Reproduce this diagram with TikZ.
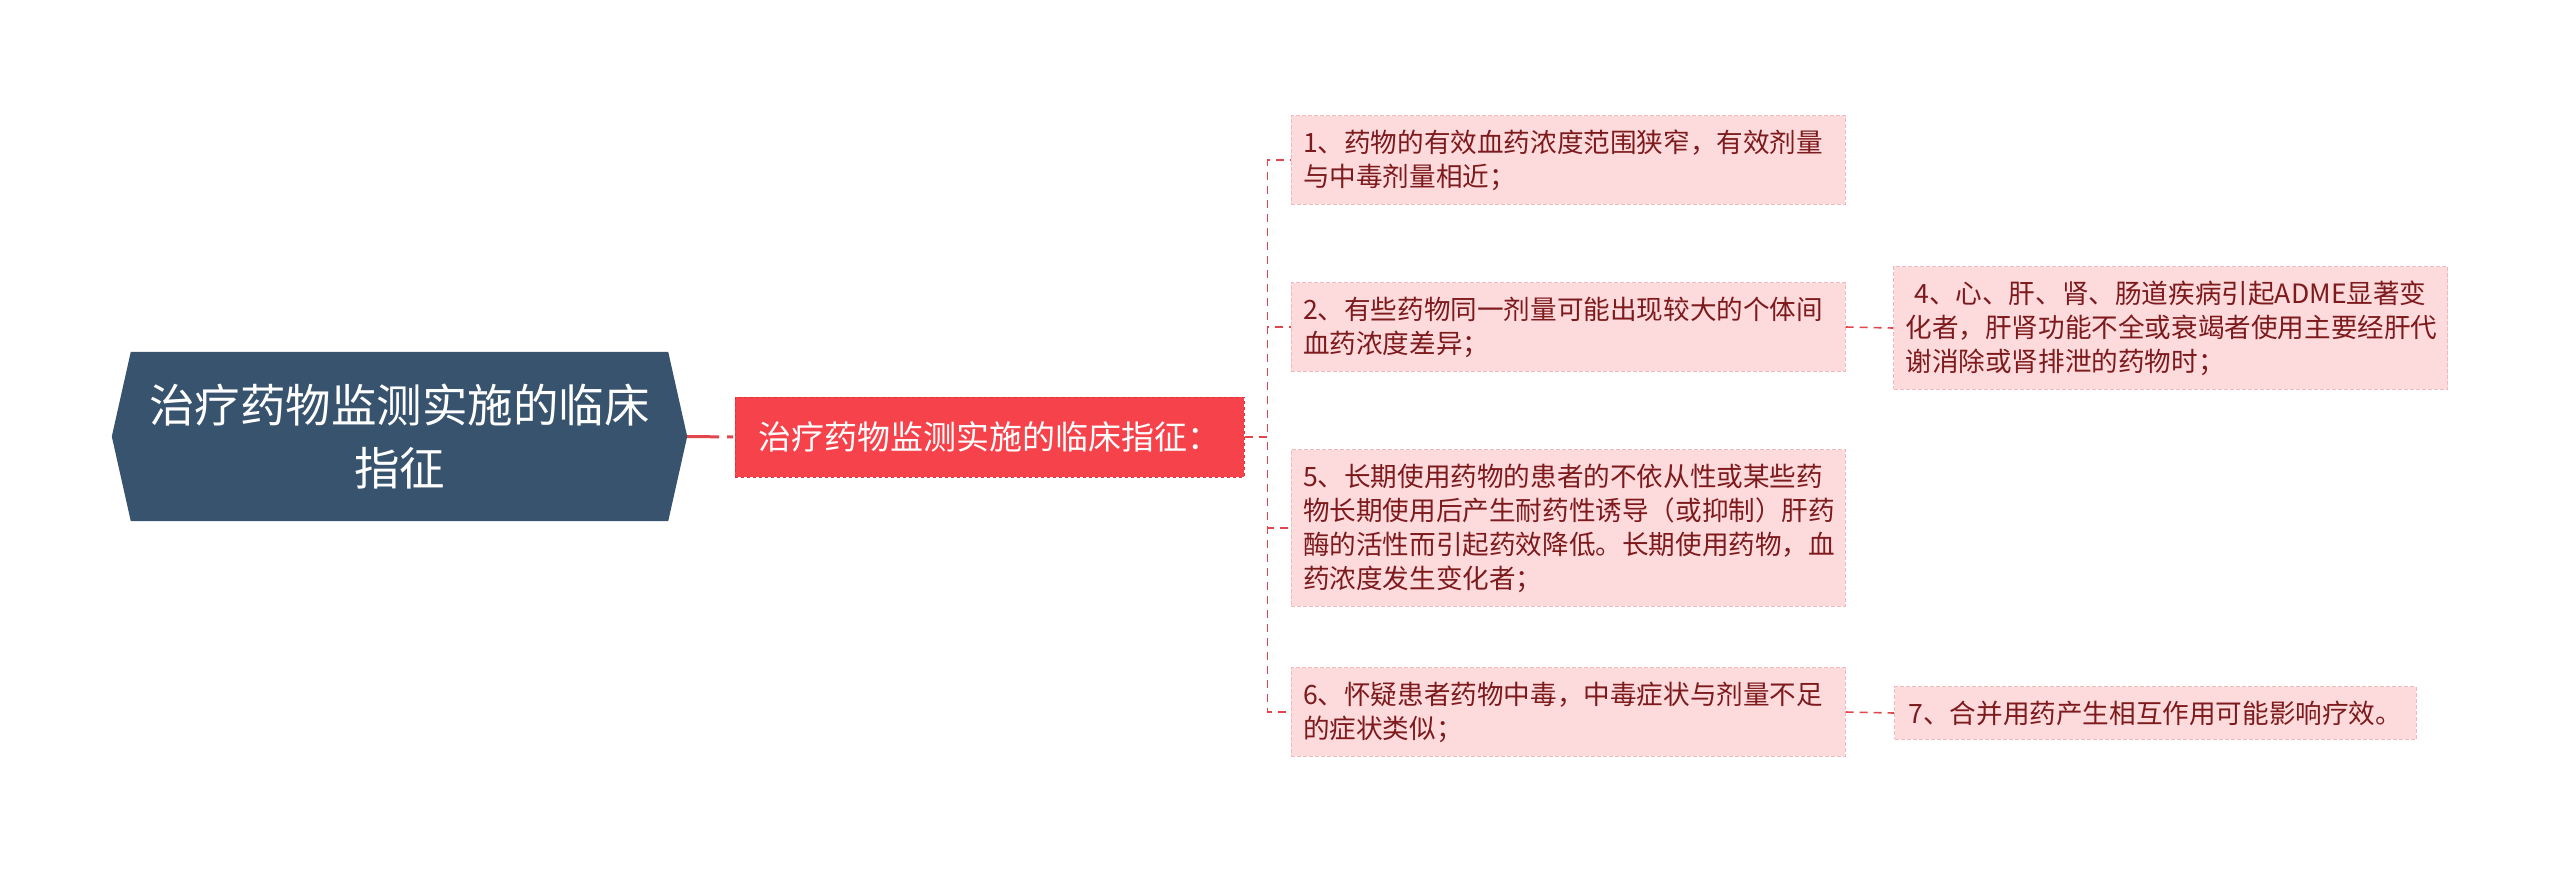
\documentclass[tikz,border=0pt]{standalone}
\usepackage{fontspec}
\setmainfont{Noto Sans CJK SC}
\usepackage{tikz}
\usetikzlibrary{positioning, backgrounds}

\definecolor{rootfill}{HTML}{37536E}
\definecolor{mainfill}{HTML}{F6434B}
\definecolor{mainline}{HTML}{D8343C}
\definecolor{leaffill}{HTML}{FDDBDC}
\definecolor{leafline}{HTML}{F2B9BC}
\definecolor{leaftext}{HTML}{7D1A1D}
\definecolor{linkred}{HTML}{E0464C}

\tikzset{
  rootbox/.style={minimum width=537pt, minimum height=169pt, inner sep=0pt, align=center,
    text=white, font=\fontsize{45.5}{63}\selectfont},
  mainbox/.style={draw=mainline, dashed, line width=1pt, fill=mainfill, minimum width=509pt,
    minimum height=80pt, inner sep=0pt, text=white, font=\fontsize{33}{40}\selectfont},
  leafbox/.style={draw=leafline, dash pattern=on 4pt off 2pt, line width=1pt, fill=leaffill,
    text=leaftext, align=left, inner xsep=12pt, inner ysep=14pt, font=\fontsize{26.6}{34}\selectfont},
  link/.style={draw=linkred, line width=1.6pt, dash pattern=on 8pt off 6pt},
  rootlink/.style={draw=linkred, line width=3pt, dash pattern=on 32pt off 8pt on 6pt off 2pt}
}

\begin{document}
\begin{tikzpicture}[x=1pt, y=1pt]
\useasboundingbox (0,0) rectangle (2560,-873) ;

\node[rootbox] at (399.5,-436.5) (root) {治疗药物监测实施的临床\\指征} ;
\node[mainbox] at (989.5,-437) (main) {治疗药物监测实施的临床指征：} ;

\node[leafbox, text width=530pt] at (1568,-160) (c1) {1、药物的有效血药浓度范围狭窄，有效剂量\\与中毒剂量相近；} ;
\node[leafbox, text width=530pt] at (1568,-327) (c2) {2、有些药物同一剂量可能出现较大的个体间\\血药浓度差异；} ;
\node[leafbox, text width=530pt] at (1568,-528) (c5) {5、长期使用药物的患者的不依从性或某些药\\物长期使用后产生耐药性诱导（或抑制）肝药\\酶的活性而引起药效降低。长期使用药物，血\\药浓度发生变化者；} ;
\node[leafbox, text width=530pt] at (1568,-712) (c6) {6、怀疑患者药物中毒，中毒症状与剂量不足\\的症状类似；} ;
\node[leafbox, text width=530pt] at (2170.5,-328) (c4) {\ 4、心、肝、肾、肠道疾病引起ADME显著变\\化者，肝肾功能不全或衰竭者使用主要经肝代\\谢消除或肾排泄的药物时；} ;
\node[leafbox, inner xsep=14pt, anchor=west] at (1894,-713) (c7) {7、合并用药产生相互作用可能影响疗效。} ;

\begin{scope}[on background layer]
\fill[rootfill] (root.north west) -- (root.north east) -- ([xshift=19pt]root.east)
  -- (root.south east) -- (root.south west) -- ([xshift=-19pt]root.west) -- cycle ;
\end{scope}

\draw[rootlink] ([xshift=19pt]root.east) -- (main.west) ;
\draw[link] (main.east) -- ++(23,0) |- (c1.west) ;
\draw[link] (main.east) -- ++(23,0) |- (c2.west) ;
\draw[link] (main.east) -- ++(23,0) |- (c5.west) ;
\draw[link] (main.east) -- ++(23,0) |- (c6.west) ;
\draw[link] (c2.east) -- (c4.west) ;
\draw[link] (c6.east) -- (c7.west) ;
\end{tikzpicture}
\end{document}
